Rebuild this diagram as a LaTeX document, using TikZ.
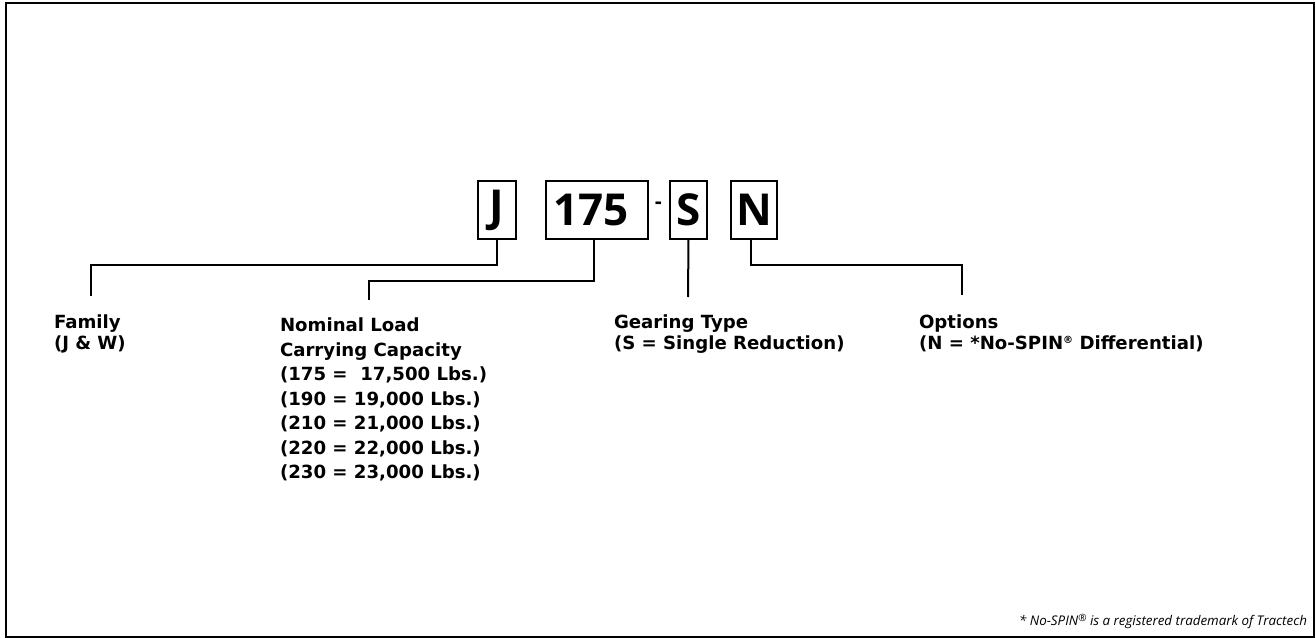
\documentclass[tikz,border=0pt]{standalone}
\usepackage{fontspec}
\setmainfont{DejaVu Sans}
\newfontfamily\boxfont{Open Sans}
\newfontfamily\notefont{Open Sans}
\usetikzlibrary{positioning}

\newcommand{\regmark}{\raisebox{0.55ex}{\fontsize{7.5}{8}\selectfont ®}}

\begin{document}
\begin{tikzpicture}[
    x=0.75pt,
    y=-0.75pt,
    line width=1.5pt,
    partbox/.style={
        draw,
        outer sep=0pt,
        inner sep=0pt,
        minimum height=43.5pt,
        font=\boxfont\bfseries\fontsize{33}{33}\selectfont
    },
    partlbl/.style={
        anchor=north west,
        inner sep=0pt,
        align=left,
        font=\bfseries\fontsize{13.6}{15.4}\selectfont
    },
    notelbl/.style={
        anchor=base east,
        inner sep=0pt,
        font=\notefont\itshape\fontsize{10}{11}\selectfont
    }
]

\useasboundingbox (0,0) rectangle (1316,638);
\draw (6,3) rectangle (1314,637);

% part number boxes
\node[partbox, minimum width=28.5pt] (boxJ) at (497,210) {J};
\node[partbox, right=22.5pt of boxJ, text width=66pt, inner xsep=5.25pt, align=left] (box175) {175};
\node[partbox, right=16.5pt of box175, minimum width=27.75pt] (boxS) {S};
\node[partbox, right=18pt of boxS, minimum width=34.5pt] (boxN) {N};
\node[font=\bfseries\fontsize{13.6}{15}\selectfont, inner sep=0pt] (dashTxt) at (658.5,205) {-};

% labels
\node[partlbl] (famLbl) at (53,314) {Family\\(J \& W)};
\node[partlbl, font=\bfseries\fontsize{13.6}{18.4}\selectfont] (loadLbl) at (279,317)
    {Nominal Load\\Carrying Capacity\\(175 = \ 17,500 Lbs.)\\(190 = 19,000 Lbs.)\\(210 = 21,000 Lbs.)\\(220 = 22,000 Lbs.)\\(230 = 23,000 Lbs.)};
\node[partlbl] (gearLbl) at (613,314) {Gearing Type\\(S = Single Reduction)};
\node[partlbl] (optLbl) at (918,314) {Options\\(N = *No-SPIN\regmark{} Differential)};
\node[notelbl] (noteLbl) at (1308,625) {* No-SPIN\regmark{} is a registered trademark of Tractech};

\coordinate (famEnd) at (91,296);
\coordinate (loadEnd) at (369,300);
\coordinate (gearEnd) at (688,297);
\coordinate (optEnd) at (962,295);

% connectors
\draw (boxJ.south) -- ++(0,26) -| (famEnd);
\draw (box175.south) ++(-3,0) -- ++(0,42) -| (loadEnd);
\draw (boxS.south) -- (gearEnd);
\draw (boxN.south) ++(-3,0) -- ++(0,26) -| (optEnd);

\end{tikzpicture}
\end{document}
